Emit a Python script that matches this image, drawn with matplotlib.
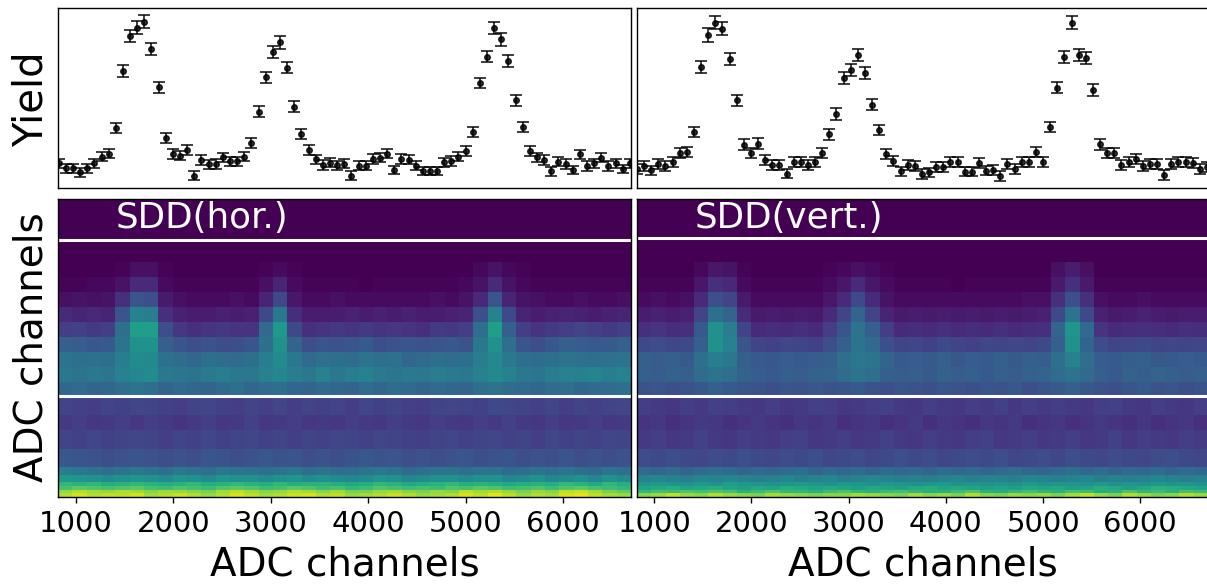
import numpy as np
import matplotlib
matplotlib.use("Agg")
import matplotlib.pyplot as plt

W, H = 1207, 585

# Yield spectra (arbitrary units), one point per ADC step
adc_start = 822
adc_step = 73.3
yield_hor = [74,59,59,47,59,74,94,103,179,351,456,481,499,417,302,150,102,97,115,37,
             84,71,72,92,80,80,94,136,229,332,408,437,361,244,162,113,86,69,76,68,
             73,37,67,67,87,91,103,54,87,85,67,51,51,51,77,81,94,112,167,315,
             394,480,446,381,263,182,112,92,84,50,79,72,54,101,66,74,91,66,74,57,74]
err_hor = [14,13,13,13,13,14,14,14,15,17,19,19,19,17,16,15,14,14,15,13,
           14,14,14,14,14,14,14,15,16,17,17,19,17,16,15,15,14,14,14,14,
           14,13,14,14,14,14,14,13,14,14,14,13,13,13,14,14,14,15,15,16,
           17,19,19,17,16,15,15,14,14,13,14,14,13,14,14,14,14,14,14,13,14]
yield_vert = [57,67,53,71,67,77,104,109,168,364,459,496,478,386,263,130,105,133,84,70,
              69,43,77,79,68,79,105,161,222,329,354,399,345,250,174,101,82,50,69,67,
              42,47,64,64,77,77,49,49,75,52,54,36,72,57,77,77,109,77,183,301,
              392,496,400,389,294,131,105,105,68,77,87,67,72,72,39,72,77,77,74,57,64]
err_vert = [14,15,14,15,15,15,15,15,16,18,20,20,20,18,17,16,15,16,15,15,
            15,14,15,15,15,15,15,16,17,18,18,18,18,17,16,15,15,14,15,15,
            14,14,15,15,15,15,14,14,15,14,14,14,15,14,15,15,15,15,16,17,
            18,20,18,18,17,16,15,15,15,15,15,15,15,15,14,15,15,15,15,14,15]

# Row edges of the 2D maps (ADC row index, bottom to top)
row_edges = [0,1,2,3,4,6,8,13,18,22,27,31,35,39,43,47,51,55,59,63,80]

# 2D map cells, bottom row first, 40 columns each, colour scale 0-100
map_hor = [
 [88,93,88,91,90,93,86,88,92,88,84,88,94,90,86,88,92,94,88,90,84,86,88,92,88,84,86,88,94,90,96,90,84,88,86,94,96,90,86,84],
 [84,88,86,84,88,86,82,86,84,82,80,86,90,86,82,84,88,86,82,86,80,80,84,86,82,80,84,82,90,86,88,84,80,84,82,90,92,86,80,76],
 [70,74,72,70,72,74,70,68,72,70,68,72,74,72,68,70,74,72,68,70,66,68,72,70,68,70,68,72,70,74,72,68,70,72,68,72,74,70,68,66],
 [66,64,66,62,64,66,64,62,64,66,62,64,66,64,62,66,62,64,64,62,60,62,66,64,60,62,64,66,62,64,62,60,62,64,62,66,64,60,66,62],
 [54,52,50,48,50,52,50,48,52,50,48,52,50,50,48,50,52,48,50,48,46,48,52,50,46,48,50,50,48,50,50,46,48,50,46,48,50,46,50,48],
 [42,40,38,36,38,40,38,36,40,38,36,40,38,38,36,38,40,36,38,36,36,38,40,38,34,36,38,38,36,38,38,34,36,38,36,38,36,34,38,36],
 [27,26,25,24,25,26,25,24,25,24,26,25,24,25,27,25,26,24,25,24,25,27,25,26,24,25,24,25,26,24,25,26,24,25,24,26,24,25,24,25],
 [20,19,21,19,20,21,20,18,20,19,21,19,20,21,19,20,18,20,19,21,20,19,21,20,19,18,20,21,19,20,21,19,20,18,21,19,20,19,21,20],
 [17,18,16,17,18,16,18,17,15,17,18,16,17,19,16,17,18,16,17,16,18,17,16,18,17,16,18,17,16,18,17,19,17,16,18,16,17,18,16,17],
 [20,19,18,20,19,21,20,19,18,20,21,19,18,20,19,21,18,20,19,20,18,21,19,20,19,18,20,21,20,19,22,21,20,19,21,18,20,19,20,21],
 [33,34,32,33,36,38,36,32,34,33,32,34,36,33,35,36,33,32,34,33,32,35,33,35,34,32,34,33,32,36,38,35,34,33,35,36,33,34,35,36],
 [40,38,40,39,44,46,48,40,39,38,41,42,40,40,44,46,42,40,44,40,42,44,41,39,41,40,42,41,40,44,47,44,40,39,42,44,43,45,42,44],
 [38,36,37,36,42,48,47,37,35,33,36,35,34,36,42,48,40,34,37,36,35,38,36,37,33,34,36,35,36,42,47,40,36,35,36,38,37,36,37,38],
 [30,29,27,28,38,50,50,30,26,24,25,23,24,26,36,50,32,24,26,25,26,28,24,25,26,25,26,27,25,40,50,36,26,24,27,30,29,28,28,30],
 [18,19,17,18,36,56,56,24,16,14,15,16,15,15,34,54,22,14,15,16,15,17,15,16,15,14,17,16,18,36,56,30,18,15,17,18,20,18,17,19],
 [12,10,11,10,26,44,42,14,9,8,8,9,8,9,22,40,13,8,8,8,9,8,9,8,9,8,8,9,10,24,44,22,10,8,9,10,9,8,9,10],
 [4,5,4,5,14,26,24,7,4,3,3,3,4,3,10,22,6,3,3,4,3,3,3,3,3,3,4,3,5,11,26,10,5,4,3,3,4,3,3,4],
 [1,1,2,2,5,12,12,3,1,1,1,1,1,1,4,10,3,1,1,1,1,0,1,1,1,1,1,1,2,5,12,5,2,1,1,1,1,1,1,1],
 [0,0,0,0,1,4,4,1,0,0,0,0,0,0,1,3,1,0,0,0,0,0,0,0,0,0,0,0,0,2,5,2,1,0,0,0,0,0,0,0],
 [0]*40,
]
map_vert = [
 [82,84,90,84,82,88,84,82,80,86,84,82,80,82,82,86,84,82,80,86,82,84,80,88,82,80,84,82,84,80,86,90,84,80,88,84,80,82,88,84],
 [66,70,68,72,70,72,70,64,68,72,66,66,64,68,72,66,64,68,70,66,62,64,68,72,64,62,66,70,66,64,70,68,62,64,72,66,68,64,70,68],
 [58,60,62,58,60,62,58,56,60,58,62,60,58,60,58,56,60,58,56,60,62,58,60,58,56,58,56,60,58,60,56,58,62,60,56,60,64,62,60,58],
 [52,54,52,50,54,52,56,54,52,50,52,54,52,50,54,52,50,54,52,50,52,54,50,52,50,52,50,54,50,52,52,50,54,50,52,50,54,52,52,50],
 [44,46,44,42,46,44,46,44,42,44,46,42,44,46,42,44,46,44,42,44,42,44,46,42,44,44,42,46,44,42,44,46,42,44,42,44,46,44,42,44],
 [34,33,35,32,34,36,34,32,34,33,34,36,32,34,33,35,32,34,33,34,32,35,33,34,32,34,36,33,32,34,36,33,35,32,34,33,35,32,34,33],
 [23,22,24,22,21,23,22,24,22,21,23,22,24,21,22,23,21,22,24,22,23,21,22,23,22,24,21,22,23,21,24,22,21,23,22,21,23,24,22,21],
 [17,18,16,17,19,17,16,18,17,16,18,19,16,17,18,16,17,19,17,16,18,17,16,18,19,16,17,18,16,17,18,16,17,19,16,18,17,16,18,17],
 [15,16,14,15,17,16,14,15,17,15,14,16,15,17,14,15,16,14,15,17,14,16,15,14,16,15,17,14,15,16,14,15,17,15,14,16,14,15,16,14],
 [18,17,16,18,17,19,18,17,16,18,16,17,19,18,16,17,18,19,17,16,18,17,16,18,17,19,16,18,17,18,17,16,18,19,17,16,18,17,16,18],
 [25,26,24,25,27,30,28,26,25,24,26,25,27,25,26,28,25,24,26,25,24,26,25,24,26,25,27,24,26,28,30,27,25,24,26,28,25,26,24,25],
 [30,29,31,30,35,38,36,31,29,28,30,29,31,32,35,38,36,30,29,30,28,31,29,30,28,30,29,31,32,35,38,34,30,28,31,29,32,30,29,30],
 [30,29,30,28,36,42,40,30,28,27,29,28,29,30,36,40,38,32,28,29,28,30,27,29,28,30,28,30,29,36,44,36,29,28,29,30,27,28,29,28],
 [22,23,21,22,30,50,44,26,20,19,21,20,19,24,30,38,34,24,20,21,19,22,20,19,21,20,21,20,22,30,50,32,23,20,21,22,20,21,20,21],
 [14,15,13,14,28,50,42,20,12,13,12,14,12,18,26,38,30,18,12,13,12,14,12,13,12,14,12,13,14,32,52,34,15,12,13,14,13,12,14,13],
 [8,9,8,9,20,36,32,12,7,8,7,8,7,12,20,32,20,10,7,8,7,8,7,8,7,8,7,8,9,22,38,22,9,7,8,9,8,7,8,8],
 [3,4,3,4,12,24,20,7,3,3,3,3,3,6,12,22,12,5,3,3,3,3,3,3,3,3,3,4,4,14,24,14,4,3,3,4,3,3,3,3],
 [1,1,1,1,6,14,11,3,1,1,1,1,1,3,6,12,6,3,1,1,1,1,0,1,1,1,1,1,1,7,14,7,1,1,1,1,1,1,1,1],
 [0,0,0,0,2,6,5,1,0,0,0,0,0,1,2,4,3,1,0,0,0,0,0,0,0,0,0,0,0,4,8,4,0,0,0,0,0,0,0,0],
 [0]*40,
]

# Horizontal white cut lines (row index) for each map
cuts_hor = [27.1, 69.0]
cuts_vert = [27.1, 69.5]

tick_vals = [1000, 2000, 3000, 4000, 5000, 6000]
xlims = [(815, 6698), (822, 6697)]
panel_x = [(58, 631), (637, 1208)]
labels = ["SDD(hor.)", "SDD(vert.)"]
label_x = [116, 695]

fig = plt.figure(figsize=(W / 100, H / 100), dpi=100)
TOP = (8, 188)
BOT = (199, 497)


def make_ax(px, py):
    return fig.add_axes([px[0] / W, 1 - py[1] / H, (px[1] - px[0]) / W, (py[1] - py[0]) / H])


series = [(yield_hor, err_hor, map_hor, cuts_hor), (yield_vert, err_vert, map_vert, cuts_vert)]
for k, (yvals, yerr, cells, cuts) in enumerate(series):
    xs = adc_start + adc_step * np.arange(len(yvals))
    ax = make_ax(panel_x[k], TOP)
    ax.errorbar(xs, yvals, yerr=yerr, fmt="o", ms=4, color="black", alpha=0.82,
                elinewidth=1.3, capsize=4.3, capthick=1.3)
    ax.set_xlim(*xlims[k])
    ax.set_ylim(0, 540)
    ax.set_xticks([])
    ax.set_yticks([])
    for s in ax.spines.values():
        s.set_linewidth(1.0)

    ax = make_ax(panel_x[k], BOT)
    edges = np.linspace(xlims[k][0], xlims[k][1], 41)
    ax.pcolormesh(edges, row_edges, np.array(cells), cmap="viridis", vmin=0, vmax=100)
    for c in cuts:
        ax.axhline(c, color="white", lw=2.2)
    ax.set_xlim(*xlims[k])
    ax.set_ylim(0, 80)
    ax.set_yticks([])
    ax.set_xticks(tick_vals)
    ax.tick_params(axis="x", labelsize=21, length=4, width=1, pad=5)
    ax.set_xlabel("ADC channels", fontsize=28, labelpad=6)
    for s in ax.spines.values():
        s.set_linewidth(1.0)
    fig.text(label_x[k] / W, 1 - 218 / H, labels[k], color="white", fontsize=25.7,
             ha="left", va="center")

fig.text(32 / W, 1 - 99 / H, "Yield", rotation=90, fontsize=29, ha="center", va="center")
fig.text(32 / W, 1 - 347 / H, "ADC channels", rotation=90, fontsize=28, ha="center", va="center")

fig.savefig("out.png", dpi=100)
